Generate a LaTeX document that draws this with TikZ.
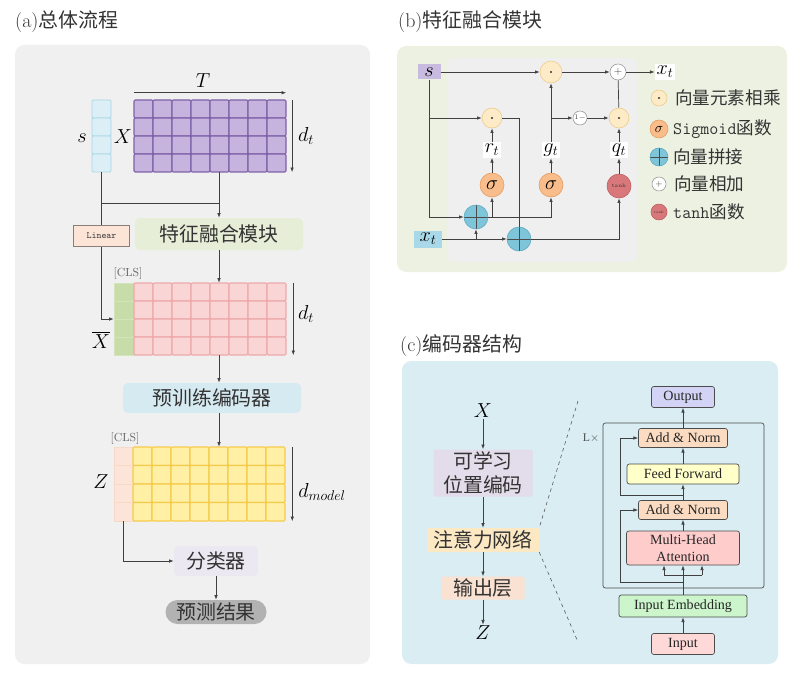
\documentclass[tikz,border=0pt]{standalone}
\usepackage{fontspec}
\usetikzlibrary{arrows.meta,fit}
\newfontfamily\cjk{Noto Sans CJK SC}
\newfontfamily\tnr{Liberation Serif}
\definecolor{panelA}{HTML}{F0F0F0}
\definecolor{panelB}{HTML}{EDF1E1}
\definecolor{innerB}{HTML}{EFEFEF}
\definecolor{panelC}{HTML}{D9EDF2}
\definecolor{sfillA}{HTML}{DCEFF6}
\definecolor{sdrawA}{HTML}{A8D5E5}
\definecolor{xfillA}{HTML}{C6B4DF}
\definecolor{xdrawA}{HTML}{7F62A9}
\definecolor{pfillA}{HTML}{F9D5D6}
\definecolor{pdrawA}{HTML}{EEA9AB}
\definecolor{gfillA}{HTML}{C8DCA9}
\definecolor{gdrawA}{HTML}{D3E4BB}
\definecolor{yfillA}{HTML}{FFF0A6}
\definecolor{ydrawA}{HTML}{F5CB4C}
\definecolor{zfillA}{HTML}{FCE5D8}
\definecolor{zdrawA}{HTML}{F8D8C6}
\definecolor{fusefill}{HTML}{E6EED8}
\definecolor{encfill}{HTML}{D6EAF1}
\definecolor{clsfill}{HTML}{EBE8F2}
\definecolor{predfill}{HTML}{B2B2B2}
\definecolor{linfill}{HTML}{FCE4D6}
\definecolor{lindraw}{HTML}{8C7F78}
\definecolor{sboxfill}{HTML}{C9BBDF}
\definecolor{xboxfill}{HTML}{A9D8E9}
\definecolor{mulfill}{HTML}{FCEBC6}
\definecolor{muldraw}{HTML}{EDCB8A}
\definecolor{catfill}{HTML}{7FC5D9}
\definecolor{catdraw}{HTML}{5CA9C2}
\definecolor{sigfill}{HTML}{F8BD8A}
\definecolor{sigdraw}{HTML}{E49B63}
\definecolor{tanhfill}{HTML}{D8787A}
\definecolor{tanhdraw}{HTML}{BE5D60}
\definecolor{posfill}{HTML}{E3DCEA}
\definecolor{attfill}{HTML}{FCE9C4}
\definecolor{outfill}{HTML}{FAE2D3}
\definecolor{outbox}{HTML}{D3D3F6}
\definecolor{anfill}{HTML}{FBDCC2}
\definecolor{fffill}{HTML}{FFFFC9}
\definecolor{mhafill}{HTML}{FFCCCC}
\definecolor{iefill}{HTML}{CCF5CC}
\definecolor{inpfill}{HTML}{FFD8D8}
\begin{document}
\begin{tikzpicture}[
    x=0.3mm, y=-0.3mm,
    ln/.style={draw=black!75, line width=0.6pt},
    arr/.style={ln, -{Latex[length=4pt,width=3pt]}},
    blk/.style={rounded corners=4pt, inner sep=0pt, text=black!80, font=\cjk\fontsize{17}{20}\selectfont},
    ttl/.style={anchor=west, inner sep=0pt, text=black!80, font=\fontsize{17}{20}\selectfont},
    lbl/.style={inner sep=1pt, font=\fontsize{17}{20}\selectfont},
    clstag/.style={inner sep=0pt, text=black!60, font=\fontsize{10}{10}\selectfont},
    enc/.style={draw=black!70, line width=0.6pt, rounded corners=2pt, inner sep=0pt, text=black!85, font=\tnr\fontsize{12}{14}\selectfont},
    op/.style={circle, inner sep=0pt, line width=0.5pt},
    mul/.style={op, fill=mulfill, draw=muldraw, path picture={\fill[black!80] (path picture bounding box.center) circle (1pt);}},
    cat/.style={op, fill=catfill, draw=catdraw, path picture={\draw[black!70, line width=0.5pt] (path picture bounding box.north) -- (path picture bounding box.south) (path picture bounding box.west) -- (path picture bounding box.east);}},
    addop/.style={op, fill=white, draw=black!40, text=black!70, font=\fontsize{9}{9}\selectfont},
    sig/.style={op, fill=sigfill, draw=sigdraw, font=\fontsize{17}{17}\selectfont},
    tnh/.style={op, fill=tanhfill, draw=tanhdraw, text=black!80, font=\fontsize{4.5}{5}\selectfont},
    leg/.style={anchor=west, inner sep=0pt, text=black!80, font=\cjk\fontsize{15}{18}\selectfont},
    gate/.style={fill=white, inner sep=1.5pt, font=\fontsize{17}{20}\selectfont}
    ]
	\useasboundingbox (0,0) rectangle (798,677);
	\fill[panelA, rounded corners=8pt] (15,45) rectangle (370,664);
	\fill[panelB, rounded corners=8pt] (397,46) rectangle (787,272);
	\fill[innerB, rounded corners=6pt] (447,58) rectangle (637,262);
	\fill[panelC, rounded corners=8pt] (402,361) rectangle (778,664);
	\node[ttl] (ta) at (15,22) {(a)\cjk 总体流程};
	\node[ttl] (tb) at (398,22) {(b)\cjk 特征融合模块};
	\node[ttl] (tc) at (400,346) {(c)\cjk 编码器结构};

	\foreach \j in {0,...,3}
		\draw[fill=sfillA, draw=sdrawA, line width=0.7pt, rounded corners=1pt] (92,{100+18*\j}) rectangle +(19,18);
	\node[fit={(92,100)(111,172)}, inner sep=0pt] (scol) {};
	\foreach \i in {0,...,7} \foreach \j in {0,...,3}
		\draw[fill=xfillA, draw=xdrawA, line width=0.9pt, rounded corners=1pt] ({134+19*\i},{100+18*\j}) rectangle +(19,18);
	\node[fit={(134,100)(286,172)}, inner sep=0pt] (xm) {};
	\node[lbl] (ls) at (82,138) {$s$};
	\node[lbl] (lx) at (123,137) {$X$};
	\node[lbl] (lt) at (203,81) {$T$};
	\draw[arr] ([yshift=6pt]xm.north west) -- ([yshift=6pt]xm.north east);
	\draw[arr] ([xshift=5pt]xm.north east) -- ([xshift=5pt]xm.south east);
	\node[lbl] (ld1) at (306,136) {$d_t$};
	\node[blk, fill=fusefill, minimum width=50.4mm, minimum height=9.6mm] (fuse) at (219,234) {特征融合模块};
	\node[draw=lindraw, fill=linfill, line width=0.6pt, minimum width=16.8mm, minimum height=6.3mm, inner sep=0pt, text=black!75, font=\ttfamily\fontsize{8}{8}\selectfont] (lin) at (101.5,236) {Linear};
	\coordinate (jn) at (219,203);
	\draw[arr] (xm.south -| fuse) -- (fuse.north);
	\draw[ln] (scol.south |- jn) -- (jn);

	\fill[gfillA] (114,283) rectangle (134,355);
	\foreach \j in {0,...,3}
		\draw[draw=gdrawA, line width=0.6pt] (114,{283+18*\j}) rectangle +(20,18);
	\foreach \i in {0,...,7} \foreach \j in {0,...,3}
		\draw[fill=pfillA, draw=pdrawA, line width=0.9pt, rounded corners=1pt] ({134+19*\i},{283+18*\j}) rectangle +(19,18);
	\node[fit={(114,283)(286,355)}, inner sep=0pt] (xbar) {};
	\node[clstag] (tag1) at (128,274) {[CLS]};
	\node[lbl] (lxb) at (101,340) {$\overline{X}$};
	\draw[ln] (scol) -- (lin);
	\draw[arr] (lin) |- (xbar.west);
	\draw[arr] (fuse.south) -- (fuse.south |- xbar.north);
	\draw[arr] ([xshift=6pt]xbar.north east) -- ([xshift=6pt]xbar.south east);
	\node[lbl] (ld2) at (306,314) {$d_t$};

	\node[blk, fill=encfill, minimum width=53.4mm, minimum height=9mm] (pre) at (212,398) {预训练编码器};
	\draw[arr] (fuse.south |- xbar.south) -- (fuse.south |- pre.north);
	\foreach \j in {0,...,3}
		\draw[fill=zfillA, draw=zdrawA, line width=0.6pt] (114,{447+18.5*\j}) rectangle +(19,18.5);
	\foreach \i in {0,...,7} \foreach \j in {0,...,3}
		\draw[fill=yfillA, draw=ydrawA, line width=0.9pt, rounded corners=1pt] ({133+19*\i},{447+18.5*\j}) rectangle +(19,18.5);
	\node[fit={(114,447)(285,521)}, inner sep=0pt] (zm) {};
	\node[clstag] (tag2) at (125,439) {[CLS]};
	\node[lbl] (lz) at (101,482) {$Z$};
	\draw[arr] (fuse.south |- pre.south) -- (fuse.south |- zm.north);
	\draw[arr] ([xshift=6pt]zm.north east) -- ([xshift=6pt]zm.south east);
	\node[lbl] (ldm) at (322,492) {$d_{model}$};
	\node[blk, fill=clsfill, minimum width=25.2mm, minimum height=9mm] (clf) at (216,561) {分类器};
	\node[blk, fill=predfill, rounded corners=3.6mm, minimum width=30.3mm, minimum height=7.2mm] (pred) at (216,612) {预测结果};
	\coordinate (zc) at (123.5,521);
	\draw[arr] (zc) |- (clf.west);
	\draw[arr] (clf) -- (pred);

	\node[fill=sboxfill, minimum width=6.9mm, minimum height=4.5mm, inner sep=0pt, font=\fontsize{17}{17}\selectfont] (sb) at (429,72) {$s$};
	\node[fill=xboxfill, minimum width=8.4mm, minimum height=5.1mm, inner sep=0pt, font=\fontsize{17}{17}\selectfont] (xb) at (428,239) {$x_t$};
	\node[mul, minimum size=6.6mm] (m1) at (551,72) {};
	\node[addop, minimum size=4.8mm] (ad) at (618,72) {$+$};
	\node[gate] (xo) at (665,72) {$x_t$};
	\node[mul, minimum size=6mm] (mr) at (492,118) {};
	\node[mul, minimum size=6mm] (mq) at (619,118) {};
	\node[addop, minimum size=4.2mm, font=\fontsize{6}{6}\selectfont] (om) at (580,118) {1$-$};
	\node[gate] (rt) at (492,150) {$r_t$};
	\node[gate] (gt) at (551,150) {$g_t$};
	\node[gate] (qt) at (619,150) {$q_t$};
	\node[sig, minimum size=7.2mm] (s1) at (492,185) {$\sigma$};
	\node[sig, minimum size=7.2mm] (s2) at (551,185) {$\sigma$};
	\node[tnh, minimum size=7.2mm] (th) at (619,186) {tanh};
	\node[cat, minimum size=7.2mm] (c1) at (476,217) {};
	\node[cat, minimum size=7.2mm] (c2) at (519,239) {};
	\draw[arr] (sb) -- (m1);
	\draw[arr] (m1) -- (ad);
	\draw[arr] (ad) -- (xo);
	\draw[arr] (sb.south) |- (c1.west);
	\draw[arr] (sb.south |- mr) -- (mr.west);
	\draw[ln] (mr.east) -| (c2.north);
	\draw[arr] (xb.east) -- (c2.west);
	\draw[arr] (xb.east -| c1) -- (c1.south);
	\draw[arr] (c2.east) -| (th.south);
	\draw[arr] (c1.east) -| (s2.south);
	\draw[arr] (c1.east -| s1) -- (s1.south);
	\draw[arr] (s1) -- (rt);
	\draw[arr] (rt) -- (mr);
	\draw[arr] (s2) -- (gt);
	\draw[arr] (gt) -- (m1);
	\draw[arr] (gt |- om) -- (om);
	\draw[arr] (om) -- (mq);
	\draw[arr] (th) -- (qt);
	\draw[arr] (qt) -- (mq);
	\draw[ln] (mq) -- (ad);
	\node[mul, minimum size=4.8mm] (lg1) at (659,98) {};
	\node[leg] (lt1) at (675,98) {向量元素相乘};
	\node[sig, minimum size=5.4mm, font=\fontsize{13}{13}\selectfont] (lg2) at (659,129) {$\sigma$};
	\node[leg] (lt2) at (673,129) {{\ttfamily Sigmoid}函数};
	\node[cat, minimum size=5.4mm] (lg3) at (659,157) {};
	\node[leg] (lt3) at (673,157) {向量拼接};
	\node[addop, minimum size=4.2mm, font=\fontsize{7}{7}\selectfont] (lg4) at (659,184) {$+$};
	\node[leg] (lt4) at (674,184) {向量相加};
	\node[tnh, minimum size=4.8mm, font=\fontsize{3}{3}\selectfont] (lg5) at (659,212) {tanh};
	\node[leg] (lt5) at (673,212) {{\ttfamily tanh}函数};

	\node[lbl] (cx) at (483,411) {$X$};
	\node[blk, fill=posfill, rounded corners=1pt, minimum width=29.7mm, minimum height=14.1mm, align=center] (pos) at (483,473) {可学习\\位置编码};
	\node[blk, fill=attfill, rounded corners=1pt, minimum width=33.6mm, minimum height=7.2mm] (att) at (483,540) {注意力网络};
	\node[blk, fill=outfill, rounded corners=1pt, minimum width=24.9mm, minimum height=6.9mm] (outl) at (483,588) {输出层};
	\node[lbl] (cz) at (483,633) {$Z$};
	\draw[arr] (cx) -- (pos);
	\draw[arr] (pos) -- (att);
	\draw[arr] (att) -- (outl);
	\draw[arr] (outl) -- (cz);
	\coordinate (zt) at (578,401);
	\coordinate (zb) at (578,642);
	\draw[dashed, black!65, line width=0.5pt] (zt) -- (att.north east);
	\draw[dashed, black!65, line width=0.5pt] (att.south east) -- (zb);

	\node[draw=black!70, line width=0.6pt, rounded corners=2pt, fit={(603,423)(764,588)}, inner sep=0pt] (lblk) {};
	\node[inner sep=0pt, text=black!70, font=\tnr\fontsize{10}{10}\selectfont] (lx2) at (591,438) {L$\times$};
	\node[enc, fill=outbox, minimum width=18.9mm, minimum height=6.3mm] (oput) at (683,397) {Output};
	\node[enc, fill=anfill, minimum width=26.7mm, minimum height=5.7mm] (an1) at (683,438) {Add \& Norm};
	\node[enc, fill=fffill, minimum width=33.6mm, minimum height=6mm] (ff) at (683,474) {Feed Forward};
	\node[enc, fill=anfill, minimum width=26.7mm, minimum height=5.7mm] (an2) at (683,510) {Add \& Norm};
	\node[enc, fill=mhafill, minimum width=33.9mm, minimum height=10.2mm, align=center] (mha) at (683,548) {Multi-Head\\Attention};
	\node[enc, fill=iefill, minimum width=38.4mm, minimum height=6.6mm] (ie) at (683,606) {Input Embedding};
	\node[enc, fill=inpfill, minimum width=18.9mm, minimum height=6.3mm] (inp) at (683,644) {Input};
	\coordinate (qk) at (664,575);
	\coordinate (qv) at (702,575);
	\coordinate (rs1) at (620,582);
	\coordinate (rs2) at (620,495);
	\draw[arr] (inp) -- (ie);
	\draw[arr] (ie) -- (mha);
	\draw[ln] (qk) -- (qv);
	\draw[arr] (qk) -- (qk |- mha.south);
	\draw[arr] (qv) -- (qv |- mha.south);
	\draw[arr] (ie.north |- rs1) -- (rs1) |- (an2.west);
	\draw[arr] (mha) -- (an2);
	\draw[arr] (an2) -- (ff);
	\draw[arr] (an2.north |- rs2) -- (rs2) |- (an1.west);
	\draw[arr] (ff) -- (an1);
	\draw[arr] (an1) -- (oput);
\end{tikzpicture}
\end{document}
